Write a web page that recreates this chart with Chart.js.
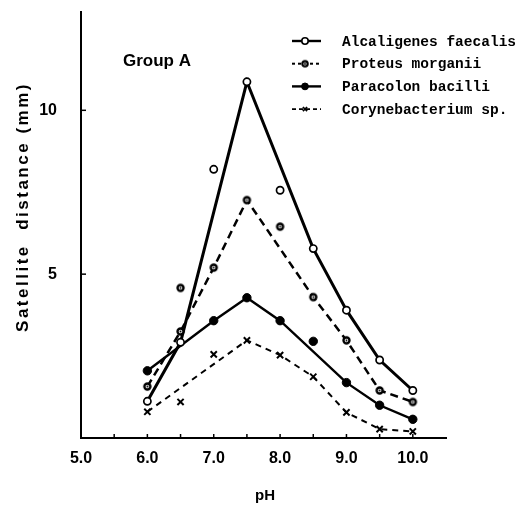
<!DOCTYPE html>
<html>
<head>
<meta charset="utf-8">
<script src="https://cdn.jsdelivr.net/npm/chart.js@4.4.1/dist/chart.umd.min.js"></script>
<style>
  html, body { margin: 0; padding: 0; background: #fff; }
</style>
</head>
<body>
<canvas id="myChart" width="528" height="508"></canvas>
<script>
// pH values where the satellite distance was read
const phValues = [6.0, 6.5, 7.0, 7.5, 8.0, 8.5, 9.0, 9.5, 10.0];

// measured points (mm), null where no marker shows
const alcaligenesPoints = [1.12, 2.92, 8.2, 10.87, 7.56, 5.78, 3.9, 2.38, 1.45];
const proteusPoints = [1.57, 3.25, 5.2, 7.26, 6.45, 4.3, 2.98, 1.45, 1.1];
const proteusExtra = [null, 4.58, null, null, null, null, null, null, null];
const paracolonPoints = [2.05, null, 3.58, 4.28, 3.58, 2.95, 1.69, 1.0, 0.57];
const corynePoints = [0.8, 1.1, 2.55, 2.98, 2.53, 1.87, 0.78, 0.27, 0.2];

// vertices of the drawn curves, null where the curve runs straight past
const alcaligenesLine = [1.12, 2.92, null, 10.87, null, 5.78, 3.9, 2.38, 1.45];
const proteusLine = [1.57, 3.25, 5.2, 7.26, null, 4.3, 2.98, 1.45, 1.1];
const paracolonLine = [2.05, null, 3.58, 4.28, 3.58, null, 1.69, 1.0, 0.57];
const coryneLine = [0.8, null, null, 2.98, 2.53, 1.87, 0.78, 0.27, 0.2];

const seriesNames = ['Alcaligenes faecalis', 'Proteus morganii', 'Paracolon bacilli', 'Corynebacterium sp.'];
const xTicks = [5.0, 6.0, 7.0, 8.0, 9.0, 10.0];
const yTicks = [5, 10];
const xMinorTicks = [5.5, 6.0, 6.5, 7.0, 7.5, 8.0, 8.5, 9.0, 9.5, 10.0];

const toXY = arr => phValues.map((x, i) => ({ x: x, y: arr[i] })).filter(p => p.y !== null);

// dark ring with a dot in the middle (Proteus marker)
function dotCircle(r, lw) {
  const c = document.createElement('canvas');
  const size = Math.ceil(r * 2 + lw + 2);
  c.width = size; c.height = size;
  const g = c.getContext('2d');
  g.beginPath();
  g.arc(size / 2, size / 2, r, 0, Math.PI * 2);
  g.fillStyle = '#fff'; g.fill();
  g.lineWidth = lw; g.strokeStyle = '#000'; g.stroke();
  g.beginPath();
  g.arc(size / 2, size / 2, 0.9, 0, Math.PI * 2);
  g.fillStyle = '#000'; g.fill();
  return c;
}

const styles = [
  { dash: [], width: 3, pointStyle: 'circle', fill: '#fff', radius: 3.6, pw: 1.7 },
  { dash: [8, 5], width: 2.5, pointStyle: dotCircle(3, 2.4), fill: '#fff', radius: 4, pw: 2 },
  { dash: [], width: 2.4, pointStyle: 'circle', fill: '#000', radius: 4.2, pw: 1 },
  { dash: [6, 5], width: 2, pointStyle: 'crossRot', fill: '#000', radius: 4.4, pw: 2 }
];
const legendStyles = [
  { dash: [], width: 2.4, pointStyle: 'circle', fill: '#fff', radius: 3.2, pw: 1.6 },
  { dash: [3, 3], width: 2, pointStyle: dotCircle(2.7, 2.2), fill: '#fff', radius: 3.4, pw: 1.6 },
  { dash: [], width: 2.4, pointStyle: 'circle', fill: '#000', radius: 3.4, pw: 1 },
  { dash: [4, 3], width: 1.6, pointStyle: 'crossRot', fill: '#000', radius: 3, pw: 1.7 }
];

const pointSets = [alcaligenesPoints, proteusPoints, paracolonPoints, corynePoints];
const lineSets = [alcaligenesLine, proteusLine, paracolonLine, coryneLine];

const datasets = [];
pointSets.forEach((arr, i) => {
  const s = styles[i];
  datasets.push({
    label: seriesNames[i],
    data: toXY(arr),
    showLine: false,
    order: 0,
    pointStyle: s.pointStyle,
    pointRadius: s.radius,
    pointBorderWidth: s.pw,
    pointBackgroundColor: s.fill,
    pointBorderColor: '#000'
  });
  datasets.push({
    label: seriesNames[i] + ' curve',
    data: toXY(lineSets[i]),
    showLine: true,
    order: 1,
    pointRadius: 0,
    borderColor: '#000',
    borderWidth: s.width,
    borderDash: s.dash,
    tension: 0
  });
});
datasets.push({
  label: seriesNames[1] + ' (outlier)',
  data: toXY(proteusExtra),
  showLine: false,
  order: 0,
  pointStyle: styles[1].pointStyle,
  pointRadius: styles[1].radius,
  pointBackgroundColor: '#fff',
  pointBorderColor: '#000'
});

// axis titles, inward tick marks, "Group A" and the key
const annotate = {
  id: 'annotate',
  afterDraw(chart) {
    const ctx = chart.ctx;
    const xs = chart.scales.x, ys = chart.scales.y;
    const area = chart.chartArea;
    ctx.save();
    ctx.strokeStyle = '#000';
    ctx.fillStyle = '#000';
    ctx.lineWidth = 1.5;
    xMinorTicks.forEach(v => {
      const px = xs.getPixelForValue(v);
      ctx.beginPath(); ctx.moveTo(px, area.bottom); ctx.lineTo(px, area.bottom - 4); ctx.stroke();
    });
    yTicks.forEach(v => {
      const py = ys.getPixelForValue(v);
      ctx.beginPath(); ctx.moveTo(area.left, py); ctx.lineTo(area.left + 5, py); ctx.stroke();
    });

    // y title
    ctx.save();
    ctx.translate(23, 207);
    ctx.rotate(-Math.PI / 2);
    ctx.font = 'bold 17px "Liberation Sans"';
    ctx.letterSpacing = '2.5px';
    ctx.textAlign = 'center';
    ctx.textBaseline = 'middle';
    ctx.fillText('Satellite  distance (mm)', 0, 0);
    ctx.restore();

    // x title
    ctx.font = 'bold 15px "Liberation Sans"';
    ctx.textAlign = 'center';
    ctx.textBaseline = 'middle';
    ctx.fillText('pH', 265, 496);

    ctx.font = 'bold 17px "Liberation Sans"';
    ctx.textAlign = 'left';
    ctx.fillText('Group A', 123, 61);

    // key
    ctx.font = 'bold 14.5px "Liberation Mono"';
    seriesNames.forEach((name, i) => {
      const y = 41 + i * 22.7;
      const s = legendStyles[i];
      ctx.save();
      ctx.lineWidth = s.width;
      ctx.setLineDash(s.dash);
      ctx.beginPath(); ctx.moveTo(292, y); ctx.lineTo(321, y); ctx.stroke();
      ctx.restore();
      ctx.save();
      ctx.fillStyle = s.fill;
      ctx.strokeStyle = '#000';
      ctx.lineWidth = s.pw;
      Chart.helpers.drawPoint(ctx, { pointStyle: s.pointStyle, radius: s.radius, rotation: 0, borderWidth: s.pw }, 305, y);
      ctx.restore();
      ctx.fillText(name, 342, y + 1);
    });
    ctx.restore();
  }
};

Chart.defaults.font.family = '"Liberation Sans", Arial, sans-serif';
Chart.defaults.color = '#000';

const ctx = document.getElementById('myChart').getContext('2d');
const myChart = new Chart(ctx, {
  type: 'scatter',
  data: { datasets: datasets },
  options: {
    responsive: false,
    animation: false,
    devicePixelRatio: 1,
    layout: { padding: { left: 0, top: 12, right: 82, bottom: 0 } },
    plugins: { legend: { display: false }, tooltip: { enabled: false } },
    scales: {
      x: {
        type: 'linear',
        min: 5,
        max: 10.5,
        grid: { display: false },
        border: { color: '#000', width: 2 },
        ticks: {
          font: { size: 16, weight: 'bold' },
          padding: 3,
          maxRotation: 0,
          callback: v => Number(v).toFixed(1)
        },
        afterBuildTicks: s => { s.ticks = xTicks.map(v => ({ value: v })); },
        afterFit: s => { s.height = 70; }
      },
      y: {
        type: 'linear',
        min: 0,
        max: 13,
        grid: { display: false },
        border: { color: '#000', width: 2 },
        ticks: {
          font: { size: 16, weight: 'bold' },
          padding: 16
        },
        afterBuildTicks: s => { s.ticks = yTicks.map(v => ({ value: v })); },
        afterFit: s => { s.width = 81; s.paddingTop = 0; s.paddingBottom = 0; }
      }
    }
  },
  plugins: [annotate]
});
</script>
</body>
</html>
